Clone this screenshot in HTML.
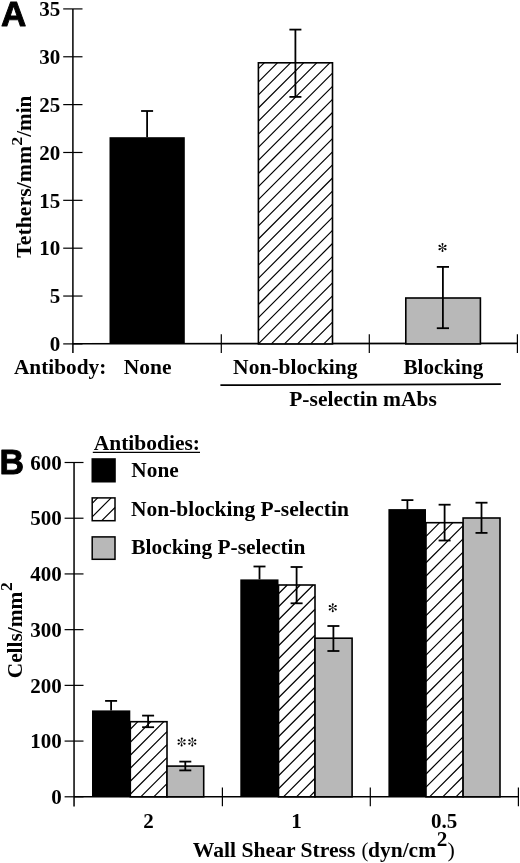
<!DOCTYPE html>
<html><head><meta charset="utf-8"><style>
html,body{margin:0;padding:0;background:#fff;width:520px;height:863px;overflow:hidden;}
svg{display:block;will-change:transform;}
</style></head><body>
<svg width="520" height="863" viewBox="0 0 520 863">
<rect width="520" height="863" fill="#fff"/>
<text x="0.90" y="25.80" font-family='"Liberation Sans", sans-serif' font-size="35" font-weight="bold" text-anchor="start" stroke="#000" stroke-width="0.9" stroke-linejoin="round">A</text>
<line x1="72.90" y1="8.91" x2="72.90" y2="353.00" stroke="#000" stroke-width="1.5"/>
<line x1="63.20" y1="343.90" x2="82.50" y2="343.90" stroke="#000" stroke-width="1.2"/>
<text x="60.30" y="351.10" font-family='"Liberation Serif", serif' font-size="21" font-weight="bold" text-anchor="end" >0</text>
<line x1="63.20" y1="296.04" x2="82.50" y2="296.04" stroke="#000" stroke-width="1.2"/>
<text x="60.30" y="303.24" font-family='"Liberation Serif", serif' font-size="21" font-weight="bold" text-anchor="end" >5</text>
<line x1="63.20" y1="248.19" x2="82.50" y2="248.19" stroke="#000" stroke-width="1.2"/>
<text x="60.30" y="255.39" font-family='"Liberation Serif", serif' font-size="21" font-weight="bold" text-anchor="end" >10</text>
<line x1="63.20" y1="200.33" x2="82.50" y2="200.33" stroke="#000" stroke-width="1.2"/>
<text x="60.30" y="207.53" font-family='"Liberation Serif", serif' font-size="21" font-weight="bold" text-anchor="end" >15</text>
<line x1="63.20" y1="152.48" x2="82.50" y2="152.48" stroke="#000" stroke-width="1.2"/>
<text x="60.30" y="159.68" font-family='"Liberation Serif", serif' font-size="21" font-weight="bold" text-anchor="end" >20</text>
<line x1="63.20" y1="104.62" x2="82.50" y2="104.62" stroke="#000" stroke-width="1.2"/>
<text x="60.30" y="111.82" font-family='"Liberation Serif", serif' font-size="21" font-weight="bold" text-anchor="end" >25</text>
<line x1="63.20" y1="56.77" x2="82.50" y2="56.77" stroke="#000" stroke-width="1.2"/>
<text x="60.30" y="63.97" font-family='"Liberation Serif", serif' font-size="21" font-weight="bold" text-anchor="end" >30</text>
<line x1="63.20" y1="8.91" x2="82.50" y2="8.91" stroke="#000" stroke-width="1.2"/>
<text x="60.30" y="16.11" font-family='"Liberation Serif", serif' font-size="21" font-weight="bold" text-anchor="end" >35</text>
<line x1="72.90" y1="343.80" x2="517.40" y2="343.40" stroke="#000" stroke-width="1.6"/>
<line x1="221.30" y1="334.20" x2="221.30" y2="353.10" stroke="#000" stroke-width="1.2"/>
<line x1="369.30" y1="334.20" x2="369.30" y2="353.10" stroke="#000" stroke-width="1.2"/>
<line x1="517.40" y1="334.20" x2="517.40" y2="353.10" stroke="#000" stroke-width="1.2"/>
<rect x="109.50" y="137.20" width="75.30" height="206.70" fill="#000"/>
<line x1="147.10" y1="111.00" x2="147.10" y2="137.20" stroke="#000" stroke-width="1.8"/>
<line x1="141.10" y1="111.00" x2="153.10" y2="111.00" stroke="#000" stroke-width="1.8"/>
<rect x="258.40" y="62.80" width="74.10" height="281.10" fill="#fff"/>
<path d="M258.40 68.70L264.30 62.80M258.40 81.80L277.40 62.80M258.40 94.90L290.50 62.80M258.40 108.00L303.60 62.80M258.40 121.10L316.70 62.80M258.40 134.20L329.80 62.80M258.40 147.30L332.50 73.20M258.40 160.40L332.50 86.30M258.40 173.50L332.50 99.40M258.40 186.60L332.50 112.50M258.40 199.70L332.50 125.60M258.40 212.80L332.50 138.70M258.40 225.90L332.50 151.80M258.40 239.00L332.50 164.90M258.40 252.10L332.50 178.00M258.40 265.20L332.50 191.10M258.40 278.30L332.50 204.20M258.40 291.40L332.50 217.30M258.40 304.50L332.50 230.40M258.40 317.60L332.50 243.50M258.40 330.70L332.50 256.60M258.40 343.80L332.50 269.70M271.40 343.90L332.50 282.80M284.50 343.90L332.50 295.90M297.60 343.90L332.50 309.00M310.70 343.90L332.50 322.10M323.80 343.90L332.50 335.20" stroke="#000" stroke-width="1.2" fill="none"/>
<rect x="258.40" y="62.80" width="74.10" height="281.10" fill="none" stroke="#000" stroke-width="1.6"/>
<line x1="295.40" y1="29.60" x2="295.40" y2="96.90" stroke="#000" stroke-width="1.8"/>
<line x1="289.40" y1="29.60" x2="301.40" y2="29.60" stroke="#000" stroke-width="1.8"/>
<line x1="289.40" y1="96.90" x2="301.40" y2="96.90" stroke="#000" stroke-width="1.8"/>
<rect x="405.80" y="298.00" width="74.60" height="45.90" fill="#b8b8b8" stroke="#000" stroke-width="1.6"/>
<line x1="442.90" y1="266.90" x2="442.90" y2="328.20" stroke="#000" stroke-width="1.8"/>
<line x1="436.80" y1="266.90" x2="449.00" y2="266.90" stroke="#000" stroke-width="1.8"/>
<line x1="436.80" y1="328.20" x2="449.00" y2="328.20" stroke="#000" stroke-width="1.8"/>
<circle cx="442.50" cy="244.10" r="1.02" fill="#000"/>
<circle cx="445.53" cy="245.85" r="1.02" fill="#000"/>
<circle cx="445.53" cy="249.35" r="1.02" fill="#000"/>
<circle cx="442.50" cy="251.10" r="1.02" fill="#000"/>
<circle cx="439.47" cy="249.35" r="1.02" fill="#000"/>
<circle cx="439.47" cy="245.85" r="1.02" fill="#000"/>
<path d="M442.62 247.60L443.11 244.10L441.89 244.10L442.38 247.60ZM442.56 247.70L445.84 246.38L445.23 245.32L442.44 247.50ZM442.44 247.70L445.23 249.88L445.84 248.82L442.56 247.50ZM442.38 247.60L441.89 251.10L443.11 251.10L442.62 247.60ZM442.44 247.50L439.16 248.82L439.77 249.88L442.56 247.70ZM442.56 247.50L439.77 245.32L439.16 246.38L442.44 247.70Z" fill="#000"/>
<text x="13.95" y="373.6" font-family='"Liberation Serif", serif' font-size="21" font-weight="bold" textLength="92.31" lengthAdjust="spacingAndGlyphs">Antibody:</text>
<text x="123.79" y="374" font-family='"Liberation Serif", serif' font-size="21" font-weight="bold" textLength="47.74" lengthAdjust="spacingAndGlyphs">None</text>
<text x="233.09" y="374.2" font-family='"Liberation Serif", serif' font-size="21" font-weight="bold" textLength="124.54" lengthAdjust="spacingAndGlyphs">Non-blocking</text>
<text x="403.55" y="373.8" font-family='"Liberation Serif", serif' font-size="21" font-weight="bold" textLength="79.66" lengthAdjust="spacingAndGlyphs">Blocking</text>
<line x1="220.40" y1="385.20" x2="500.90" y2="384.10" stroke="#000" stroke-width="1.8"/>
<text x="289.24" y="406.3" font-family='"Liberation Serif", serif' font-size="21" font-weight="bold" textLength="147.53" lengthAdjust="spacingAndGlyphs">P-selectin mAbs</text>
<text transform="translate(31.0,0) rotate(-90)" x="-257.76" y="0" font-family='"Liberation Serif", serif' font-size="21" font-weight="bold" textLength="111.85" lengthAdjust="spacingAndGlyphs">Tethers/mm</text>
<text transform="translate(21.8,0) rotate(-90)" x="-145.78" y="0" font-family='"Liberation Serif", serif' font-size="15.5" font-weight="bold" textLength="9.05" lengthAdjust="spacingAndGlyphs">2</text>
<text transform="translate(31.0,0) rotate(-90)" x="-136.75" y="0" font-family='"Liberation Serif", serif' font-size="21" font-weight="bold" textLength="41.09" lengthAdjust="spacingAndGlyphs">/min</text>
<text transform="translate(-0.6,474.0) scale(0.97,1)" x="0" y="0" font-family='"Liberation Sans", sans-serif' font-size="35" font-weight="bold" stroke="#000" stroke-width="0.9" stroke-linejoin="round">B</text>
<line x1="74.05" y1="462.50" x2="74.05" y2="806.40" stroke="#000" stroke-width="1.5"/>
<line x1="64.60" y1="796.80" x2="83.50" y2="796.80" stroke="#000" stroke-width="1.2"/>
<text x="61.80" y="804.00" font-family='"Liberation Serif", serif' font-size="21" font-weight="bold" text-anchor="end" >0</text>
<line x1="64.60" y1="741.08" x2="83.50" y2="741.08" stroke="#000" stroke-width="1.2"/>
<text x="61.80" y="748.28" font-family='"Liberation Serif", serif' font-size="21" font-weight="bold" text-anchor="end" >100</text>
<line x1="64.60" y1="685.37" x2="83.50" y2="685.37" stroke="#000" stroke-width="1.2"/>
<text x="61.80" y="692.57" font-family='"Liberation Serif", serif' font-size="21" font-weight="bold" text-anchor="end" >200</text>
<line x1="64.60" y1="629.65" x2="83.50" y2="629.65" stroke="#000" stroke-width="1.2"/>
<text x="61.80" y="636.85" font-family='"Liberation Serif", serif' font-size="21" font-weight="bold" text-anchor="end" >300</text>
<line x1="64.60" y1="573.93" x2="83.50" y2="573.93" stroke="#000" stroke-width="1.2"/>
<text x="61.80" y="581.13" font-family='"Liberation Serif", serif' font-size="21" font-weight="bold" text-anchor="end" >400</text>
<line x1="64.60" y1="518.22" x2="83.50" y2="518.22" stroke="#000" stroke-width="1.2"/>
<text x="61.80" y="525.42" font-family='"Liberation Serif", serif' font-size="21" font-weight="bold" text-anchor="end" >500</text>
<line x1="64.60" y1="462.50" x2="83.50" y2="462.50" stroke="#000" stroke-width="1.2"/>
<text x="61.80" y="469.70" font-family='"Liberation Serif", serif' font-size="21" font-weight="bold" text-anchor="end" >600</text>
<line x1="74.05" y1="796.80" x2="518.40" y2="796.80" stroke="#000" stroke-width="1.6"/>
<line x1="222.40" y1="787.40" x2="222.40" y2="806.30" stroke="#000" stroke-width="1.2"/>
<line x1="370.30" y1="787.40" x2="370.30" y2="806.30" stroke="#000" stroke-width="1.2"/>
<line x1="518.40" y1="787.40" x2="518.40" y2="806.30" stroke="#000" stroke-width="1.2"/>
<rect x="92.00" y="710.40" width="38.30" height="86.40" fill="#000"/>
<line x1="111.10" y1="700.90" x2="111.10" y2="710.40" stroke="#000" stroke-width="1.8"/>
<line x1="105.10" y1="700.90" x2="117.10" y2="700.90" stroke="#000" stroke-width="1.8"/>
<rect x="130.30" y="721.70" width="36.70" height="75.10" fill="#fff"/>
<path d="M130.30 729.26L137.86 721.70M130.30 742.26L150.86 721.70M130.30 755.26L163.86 721.70M130.30 768.26L167.00 731.56M130.30 781.26L167.00 744.56M130.30 794.26L167.00 757.56M140.76 796.80L167.00 770.56M153.76 796.80L167.00 783.56M166.76 796.80L167.00 796.56" stroke="#000" stroke-width="1.2" fill="none"/>
<rect x="130.30" y="721.70" width="36.70" height="75.10" fill="none" stroke="#000" stroke-width="1.6"/>
<line x1="148.10" y1="715.60" x2="148.10" y2="727.20" stroke="#000" stroke-width="1.8"/>
<line x1="142.10" y1="715.60" x2="154.10" y2="715.60" stroke="#000" stroke-width="1.8"/>
<line x1="142.10" y1="727.20" x2="154.10" y2="727.20" stroke="#000" stroke-width="1.8"/>
<rect x="167.00" y="766.10" width="36.70" height="30.70" fill="#b8b8b8" stroke="#000" stroke-width="1.6"/>
<line x1="185.30" y1="761.60" x2="185.30" y2="770.40" stroke="#000" stroke-width="1.8"/>
<line x1="179.30" y1="761.60" x2="191.30" y2="761.60" stroke="#000" stroke-width="1.8"/>
<line x1="179.30" y1="770.40" x2="191.30" y2="770.40" stroke="#000" stroke-width="1.8"/>
<circle cx="181.60" cy="738.50" r="1.02" fill="#000"/>
<circle cx="184.63" cy="740.25" r="1.02" fill="#000"/>
<circle cx="184.63" cy="743.75" r="1.02" fill="#000"/>
<circle cx="181.60" cy="745.50" r="1.02" fill="#000"/>
<circle cx="178.57" cy="743.75" r="1.02" fill="#000"/>
<circle cx="178.57" cy="740.25" r="1.02" fill="#000"/>
<path d="M181.72 742.00L182.21 738.50L180.99 738.50L181.48 742.00ZM181.66 742.10L184.94 740.78L184.33 739.72L181.54 741.90ZM181.54 742.10L184.33 744.28L184.94 743.22L181.66 741.90ZM181.48 742.00L180.99 745.50L182.21 745.50L181.72 742.00ZM181.54 741.90L178.26 743.22L178.87 744.28L181.66 742.10ZM181.66 741.90L178.87 739.72L178.26 740.78L181.54 742.10Z" fill="#000"/>
<circle cx="192.30" cy="738.50" r="1.02" fill="#000"/>
<circle cx="195.33" cy="740.25" r="1.02" fill="#000"/>
<circle cx="195.33" cy="743.75" r="1.02" fill="#000"/>
<circle cx="192.30" cy="745.50" r="1.02" fill="#000"/>
<circle cx="189.27" cy="743.75" r="1.02" fill="#000"/>
<circle cx="189.27" cy="740.25" r="1.02" fill="#000"/>
<path d="M192.42 742.00L192.91 738.50L191.69 738.50L192.18 742.00ZM192.36 742.10L195.64 740.78L195.03 739.72L192.24 741.90ZM192.24 742.10L195.03 744.28L195.64 743.22L192.36 741.90ZM192.18 742.00L191.69 745.50L192.91 745.50L192.42 742.00ZM192.24 741.90L188.96 743.22L189.57 744.28L192.36 742.10ZM192.36 741.90L189.57 739.72L188.96 740.78L192.24 742.10Z" fill="#000"/>
<rect x="240.30" y="579.40" width="38.20" height="217.40" fill="#000"/>
<line x1="259.50" y1="566.50" x2="259.50" y2="579.40" stroke="#000" stroke-width="1.8"/>
<line x1="253.50" y1="566.50" x2="265.50" y2="566.50" stroke="#000" stroke-width="1.8"/>
<rect x="278.50" y="585.00" width="36.50" height="211.80" fill="#fff"/>
<path d="M278.50 593.76L287.26 585.00M278.50 606.76L300.26 585.00M278.50 619.76L313.26 585.00M278.50 632.76L315.00 596.26M278.50 645.76L315.00 609.26M278.50 658.76L315.00 622.26M278.50 671.76L315.00 635.26M278.50 684.76L315.00 648.26M278.50 697.76L315.00 661.26M278.50 710.76L315.00 674.26M278.50 723.76L315.00 687.26M278.50 736.76L315.00 700.26M278.50 749.76L315.00 713.26M278.50 762.76L315.00 726.26M278.50 775.76L315.00 739.26M278.50 788.76L315.00 752.26M283.46 796.80L315.00 765.26M296.46 796.80L315.00 778.26M309.46 796.80L315.00 791.26" stroke="#000" stroke-width="1.2" fill="none"/>
<rect x="278.50" y="585.00" width="36.50" height="211.80" fill="none" stroke="#000" stroke-width="1.6"/>
<line x1="296.60" y1="567.00" x2="296.60" y2="603.30" stroke="#000" stroke-width="1.8"/>
<line x1="290.60" y1="567.00" x2="302.60" y2="567.00" stroke="#000" stroke-width="1.8"/>
<line x1="290.60" y1="603.30" x2="302.60" y2="603.30" stroke="#000" stroke-width="1.8"/>
<rect x="315.00" y="638.20" width="37.10" height="158.60" fill="#b8b8b8" stroke="#000" stroke-width="1.6"/>
<line x1="333.40" y1="626.00" x2="333.40" y2="651.00" stroke="#000" stroke-width="1.8"/>
<line x1="327.40" y1="626.00" x2="339.40" y2="626.00" stroke="#000" stroke-width="1.8"/>
<line x1="327.40" y1="651.00" x2="339.40" y2="651.00" stroke="#000" stroke-width="1.8"/>
<circle cx="332.75" cy="604.20" r="1.02" fill="#000"/>
<circle cx="335.78" cy="605.95" r="1.02" fill="#000"/>
<circle cx="335.78" cy="609.45" r="1.02" fill="#000"/>
<circle cx="332.75" cy="611.20" r="1.02" fill="#000"/>
<circle cx="329.72" cy="609.45" r="1.02" fill="#000"/>
<circle cx="329.72" cy="605.95" r="1.02" fill="#000"/>
<path d="M332.87 607.70L333.36 604.20L332.14 604.20L332.63 607.70ZM332.81 607.80L336.09 606.48L335.48 605.42L332.69 607.60ZM332.69 607.80L335.48 609.98L336.09 608.92L332.81 607.60ZM332.63 607.70L332.14 611.20L333.36 611.20L332.87 607.70ZM332.69 607.60L329.41 608.92L330.02 609.98L332.81 607.80ZM332.81 607.60L330.02 605.42L329.41 606.48L332.69 607.80Z" fill="#000"/>
<rect x="388.40" y="509.10" width="37.60" height="287.70" fill="#000"/>
<line x1="407.40" y1="500.10" x2="407.40" y2="509.10" stroke="#000" stroke-width="1.8"/>
<line x1="401.40" y1="500.10" x2="413.40" y2="500.10" stroke="#000" stroke-width="1.8"/>
<rect x="426.00" y="522.70" width="37.10" height="274.10" fill="#fff"/>
<path d="M426.00 523.16L426.46 522.70M426.00 536.36L439.66 522.70M426.00 549.56L452.86 522.70M426.00 562.76L463.10 525.66M426.00 575.96L463.10 538.86M426.00 589.16L463.10 552.06M426.00 602.36L463.10 565.26M426.00 615.56L463.10 578.46M426.00 628.76L463.10 591.66M426.00 641.96L463.10 604.86M426.00 655.16L463.10 618.06M426.00 668.36L463.10 631.26M426.00 681.56L463.10 644.46M426.00 694.76L463.10 657.66M426.00 707.96L463.10 670.86M426.00 721.16L463.10 684.06M426.00 734.36L463.10 697.26M426.00 747.56L463.10 710.46M426.00 760.76L463.10 723.66M426.00 773.96L463.10 736.86M426.00 787.16L463.10 750.06M429.56 796.80L463.10 763.26M442.76 796.80L463.10 776.46M455.96 796.80L463.10 789.66" stroke="#000" stroke-width="1.2" fill="none"/>
<rect x="426.00" y="522.70" width="37.10" height="274.10" fill="none" stroke="#000" stroke-width="1.6"/>
<line x1="444.60" y1="504.70" x2="444.60" y2="540.50" stroke="#000" stroke-width="1.8"/>
<line x1="438.60" y1="504.70" x2="450.60" y2="504.70" stroke="#000" stroke-width="1.8"/>
<line x1="438.60" y1="540.50" x2="450.60" y2="540.50" stroke="#000" stroke-width="1.8"/>
<rect x="463.10" y="518.00" width="36.90" height="278.80" fill="#b8b8b8" stroke="#000" stroke-width="1.6"/>
<line x1="481.50" y1="502.70" x2="481.50" y2="532.90" stroke="#000" stroke-width="1.8"/>
<line x1="475.50" y1="502.70" x2="487.50" y2="502.70" stroke="#000" stroke-width="1.8"/>
<line x1="475.50" y1="532.90" x2="487.50" y2="532.90" stroke="#000" stroke-width="1.8"/>
<text x="148.60" y="828.00" font-family='"Liberation Serif", serif' font-size="21" font-weight="bold" text-anchor="middle" >2</text>
<text x="296.40" y="828.00" font-family='"Liberation Serif", serif' font-size="21" font-weight="bold" text-anchor="middle" >1</text>
<text x="444.10" y="828.00" font-family='"Liberation Serif", serif' font-size="21" font-weight="bold" text-anchor="middle" >0.5</text>
<text x="192.84" y="856.9" font-family='"Liberation Serif", serif' font-size="21" font-weight="bold" textLength="162.59" lengthAdjust="spacingAndGlyphs">Wall Shear Stress</text>
<text x="361.51" y="856.9" font-family='"Liberation Serif", serif' font-size="21" font-weight="normal" textLength="6.93" lengthAdjust="spacingAndGlyphs">(</text>
<text x="368.03" y="856.9" font-family='"Liberation Serif", serif' font-size="21" font-weight="bold" textLength="68.04" lengthAdjust="spacingAndGlyphs">dyn/cm</text>
<text x="436.81" y="846.1" font-family='"Liberation Serif", serif' font-size="20" font-weight="bold" textLength="10.59" lengthAdjust="spacingAndGlyphs">2</text>
<text x="447.41" y="856.9" font-family='"Liberation Serif", serif' font-size="21" font-weight="normal" textLength="7.33" lengthAdjust="spacingAndGlyphs">)</text>
<text transform="translate(21.7,0) rotate(-90)" x="-678.21" y="0" font-family='"Liberation Serif", serif' font-size="21" font-weight="bold" textLength="86.33" lengthAdjust="spacingAndGlyphs">Cells/mm</text>
<text transform="translate(12.4,0) rotate(-90)" x="-591.10" y="0" font-family='"Liberation Serif", serif' font-size="16.5" font-weight="bold" textLength="8.80" lengthAdjust="spacingAndGlyphs">2</text>
<text x="93.74" y="450.2" font-family='"Liberation Serif", serif' font-size="21" font-weight="bold" textLength="106.26" lengthAdjust="spacingAndGlyphs">Antibodies:</text>
<line x1="92.80" y1="452.40" x2="200.00" y2="452.40" stroke="#000" stroke-width="1.3"/>
<rect x="91.50" y="458.20" width="24.30" height="24.30" fill="#000"/>
<rect x="92.20" y="497.90" width="22.80" height="22.80" fill="#fff"/>
<path d="M92.20 503.30L97.60 497.90M92.20 516.80L111.10 497.90M101.80 520.70L115.00 507.50" stroke="#000" stroke-width="1.2" fill="none"/>
<rect x="92.20" y="497.90" width="22.80" height="22.80" fill="none" stroke="#000" stroke-width="1.5"/>
<rect x="92.20" y="536.90" width="22.80" height="22.40" fill="#b8b8b8" stroke="#000" stroke-width="1.5"/>
<text x="131.39" y="476.9" font-family='"Liberation Serif", serif' font-size="21" font-weight="bold" textLength="47.33" lengthAdjust="spacingAndGlyphs">None</text>
<text x="130.99" y="516" font-family='"Liberation Serif", serif' font-size="21" font-weight="bold" textLength="217.94" lengthAdjust="spacingAndGlyphs">Non-blocking P-selectin</text>
<text x="131.25" y="554" font-family='"Liberation Serif", serif' font-size="21" font-weight="bold" textLength="174.17" lengthAdjust="spacingAndGlyphs">Blocking P-selectin</text>
</svg>
</body></html>
